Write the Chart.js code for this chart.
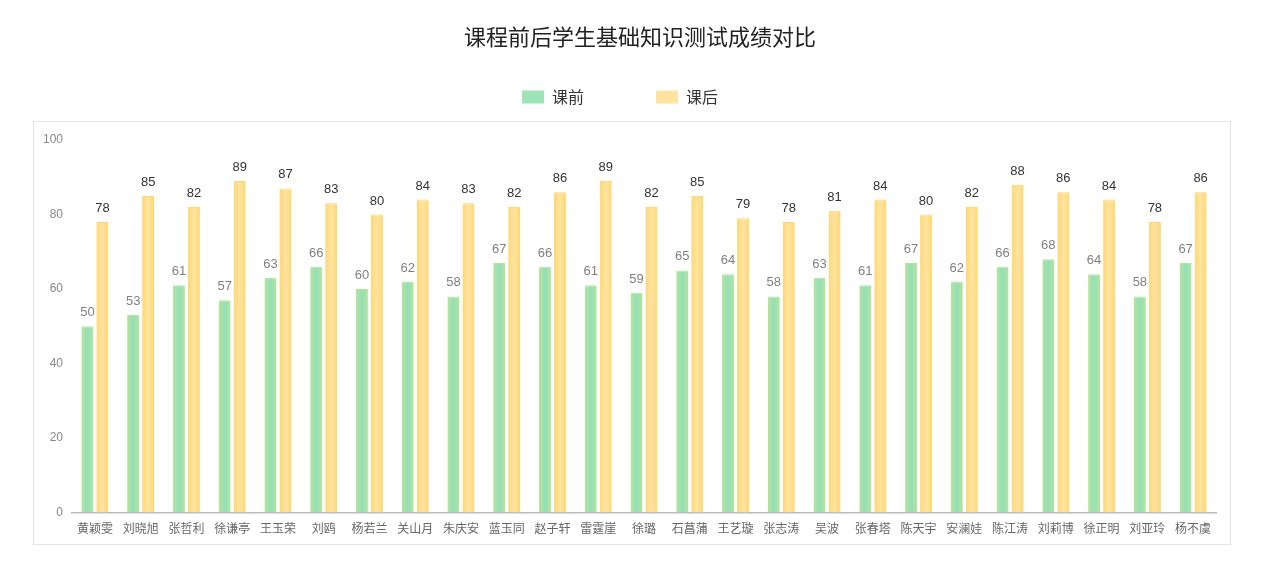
<!DOCTYPE html>
<html>
<head>
<meta charset="utf-8">
<script src="https://cdn.jsdelivr.net/npm/chart.js@4.4.1/dist/chart.umd.min.js"></script>
<style>
html,body{margin:0;padding:0;background:#fff;}
canvas{display:block;}
</style>
</head>
<body>
<canvas id="c" width="1269" height="570"></canvas>
<script>
// ---- data ----
const TITLE = '课程前后学生基础知识测试成绩对比';
const SERIES_NAMES = ['课前', '课后'];
const STUDENTS = ['黄颖雯','刘晓旭','张哲利','徐谦亭','王玉荣','刘鸥','杨若兰','关山月','朱庆安','蓝玉同',
  '赵子轩','雷霆崖','徐璐','石菖蒲','王艺璇','张志涛','吴波','张春塔','陈天宇','安澜娃',
  '陈江涛','刘莉博','徐正明','刘亚玲','杨不虞'];
const BEFORE = [50,53,61,57,63,66,60,62,58,67,66,61,59,65,64,58,63,61,67,62,66,68,64,58,67];
const AFTER  = [78,85,82,89,87,83,80,84,83,82,86,89,82,85,79,78,81,84,80,82,88,86,84,78,86];
const Y_TICKS = [0, 20, 40, 60, 80, 100];

// ---- styles ----
const CAT_PCT = 0.656, BAR_PCT = 0.8;
const EDGE = ['#b6e49c', '#ffd774'];
const CENTER = ['#93dfb8', '#ffe4a1'];
const LEGEND_COLORS = ['#9de3b8', '#ffe3a0'];
const LABEL_COLORS = ['#808080', '#333333'];
const CJK = "'Noto Sans CJK SC', 'Liberation Sans', sans-serif";

Chart.defaults.font.family = CJK;

function barFill(dsIdx) {
  return (c) => {
    const chart = c.chart, x = chart.scales && chart.scales.x;
    if (!x || c.type !== 'data' || !x.width) return CENTER[dsIdx];
    const catW = x.width / STUDENTS.length;
    const slot = catW * CAT_PCT / 2;
    const cx = x.getPixelForValue(c.dataIndex) + (dsIdx - 0.5) * slot;
    const w = slot * BAR_PCT;
    const g = chart.ctx.createLinearGradient(cx - w / 2, 0, cx + w / 2, 0);
    g.addColorStop(0, EDGE[dsIdx]);
    g.addColorStop(0.5, CENTER[dsIdx]);
    g.addColorStop(1, EDGE[dsIdx]);
    return g;
  };
}

const frame = {
  id: 'frame',
  beforeDraw(chart) {
    const ctx = chart.ctx;
    ctx.save();
    ctx.strokeStyle = '#e4e4e4';
    ctx.lineWidth = 1;
    ctx.strokeRect(33.5, 121.5, 1197, 423);
    ctx.restore();
  }
};

const placement = {
  id: 'placement',
  beforeLayout(chart) {
    const lg = chart.legend;
    if (lg && !lg._patched) {
      const fit0 = lg.fit;
      lg.fit = function () { fit0.call(this); this.height = 123; };
      lg._patched = true;
    }
  },
  afterLayout(chart) {
    if (chart.legend) chart.legend.left = 24;
    if (chart.titleBlock) chart.titleBlock.left = 64;
  }
};

const valueLabels = {
  id: 'valueLabels',
  afterDatasetsDraw(chart) {
    const ctx = chart.ctx;
    ctx.save();
    ctx.font = "13px 'Liberation Sans', Arial, sans-serif";
    ctx.textAlign = 'center';
    ctx.textBaseline = 'alphabetic';
    chart.data.datasets.forEach((ds, i) => {
      const meta = chart.getDatasetMeta(i);
      if (meta.hidden) return;
      ctx.fillStyle = LABEL_COLORS[i];
      meta.data.forEach((el, j) => {
        ctx.fillText(String(ds.data[j]), el.x, el.y - 10);
      });
    });
    ctx.restore();
  }
};

new Chart(document.getElementById('c'), {
  type: 'bar',
  data: {
    labels: STUDENTS,
    datasets: [
      { label: SERIES_NAMES[0], data: BEFORE, backgroundColor: barFill(0),
        borderColor: EDGE[0], borderWidth: {top: 1, left: 0, right: 0, bottom: 0},
        barPercentage: BAR_PCT, categoryPercentage: CAT_PCT },
      { label: SERIES_NAMES[1], data: AFTER, backgroundColor: barFill(1),
        borderColor: EDGE[1], borderWidth: {top: 1, left: 0, right: 0, bottom: 0},
        barPercentage: BAR_PCT, categoryPercentage: CAT_PCT }
    ]
  },
  options: {
    responsive: false,
    animation: false,
    devicePixelRatio: 1,
    layout: { padding: { top: 0, left: 0, right: 53, bottom: 25 } },
    plugins: {
      title: {
        display: true, text: TITLE, color: '#222',
        font: { size: 22, weight: 'normal', family: CJK },
        padding: { top: 23, bottom: -32.4 }
      },
      legend: {
        display: true,
        labels: {
          color: '#333',
          font: { size: 16, family: CJK },
          boxWidth: 22, boxHeight: 13, padding: 72,
          generateLabels: (chart) => SERIES_NAMES.map((t, i) => ({
            text: t, fillStyle: LEGEND_COLORS[i], strokeStyle: LEGEND_COLORS[i],
            lineWidth: 0, hidden: !chart.isDatasetVisible(i), datasetIndex: i, fontColor: '#333'
          }))
        }
      },
      tooltip: { enabled: true }
    },
    scales: {
      x: {
        grid: { display: false, drawTicks: false },
        border: { display: true, color: '#bbb', width: 1.5 },
        ticks: { color: '#666', font: { size: 12, family: CJK }, padding: 9,
                 autoSkip: false, maxRotation: 0, minRotation: 0 }
      },
      y: {
        min: Y_TICKS[0], max: Y_TICKS[Y_TICKS.length - 1],
        grid: { display: false, drawTicks: false },
        border: { display: false },
        afterFit: (s) => { s.width = 72; },
        afterBuildTicks: (s) => { s.ticks = Y_TICKS.map(v => ({ value: v })); },
        ticks: { color: '#888', font: { size: 12, family: "'Liberation Sans', Arial, sans-serif" }, padding: 9 }
      }
    }
  },
  plugins: [frame, placement, valueLabels]
});
</script>
</body>
</html>
